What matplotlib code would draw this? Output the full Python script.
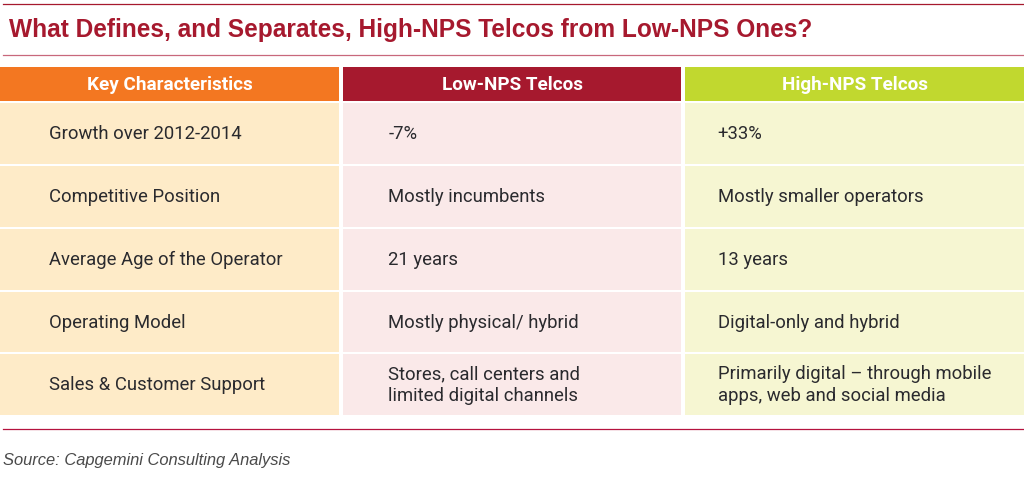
import matplotlib
matplotlib.use('Agg')
import matplotlib.pyplot as plt
from matplotlib.patches import Rectangle

title = 'What Defines, and Separates, High-NPS Telcos from Low-NPS Ones?'
source = 'Source: Capgemini Consulting Analysis'
headers = ['Key Characteristics', 'Low-NPS Telcos', 'High-NPS Telcos']
characteristics = ['Growth over 2012-2014', 'Competitive Position', 'Average Age of the Operator',
                   'Operating Model', 'Sales & Customer Support']
low_nps = ['-7%', 'Mostly incumbents', '21 years', 'Mostly physical/ hybrid',
           'Stores, call centers and\nlimited digital channels']
high_nps = ['+33%', 'Mostly smaller operators', '13 years', 'Digital-only and hybrid',
            'Primarily digital \u2013 through mobile\napps, web and social media']

col_left = [-1, 343, 685]
col_right = [339, 681, 1025]
text_x = [49, 388.5, 717.5]
head_colors = ['#f37721', '#a6192e', '#c1d82f']
cell_colors = ['#feebc8', '#fae9e9', '#f6f6d2']
row_top = [103, 166, 229, 292, 354]
row_bot = [163.5, 226.5, 289.5, 351.5, 414.5]

narrow = ['Roboto', 'Liberation Sans', 'DejaVu Sans']
sans = ['Liberation Sans', 'DejaVu Sans']

fig = plt.figure(figsize=(10.24, 4.93), dpi=100)
ax = fig.add_axes([0, 0, 1, 1])
ax.set_xlim(0, 1024)
ax.set_ylim(493, 0)
ax.axis('off')

# rules
ax.plot([3, 1024], [3.5, 3.5], color='#a6192e', lw=0.9)
ax.plot([3, 1024], [54.5, 54.5], color='#c8687c', lw=0.9)
ax.plot([3, 1024], [428.5, 428.5], color='#b5123e', lw=0.9)

ax.text(9, 29.5, title, family=sans, fontsize=17.65, fontweight='bold', color='#a6192e',
        va='center', ha='left')

columns = [characteristics, low_nps, high_nps]
for c in range(3):
    w = col_right[c] - col_left[c]
    ax.add_patch(Rectangle((col_left[c], 67), w, 34, fc=head_colors[c], ec='none'))
    ax.text((col_left[c] + col_right[c]) / 2 + (1 if c == 0 else 0), 85.5, headers[c], family=narrow,
            fontsize=13.6, fontweight='bold', color='white', ha='center', va='center')
    for r in range(5):
        ax.add_patch(Rectangle((col_left[c], row_top[r]), w, row_bot[r] - row_top[r],
                               fc=cell_colors[c], ec='none'))
        ax.text(text_x[c], (row_top[r] + row_bot[r]) / 2 + 0.8, columns[c][r], family=narrow,
                fontsize=13.3, color='#2a2a2e', ha='left', va='center', linespacing=1.25)

ax.text(3, 460, source, family=sans, fontsize=11.9, style='italic', color='#4a4a4a',
        ha='left', va='center')

fig.savefig('out.png', dpi=100)
